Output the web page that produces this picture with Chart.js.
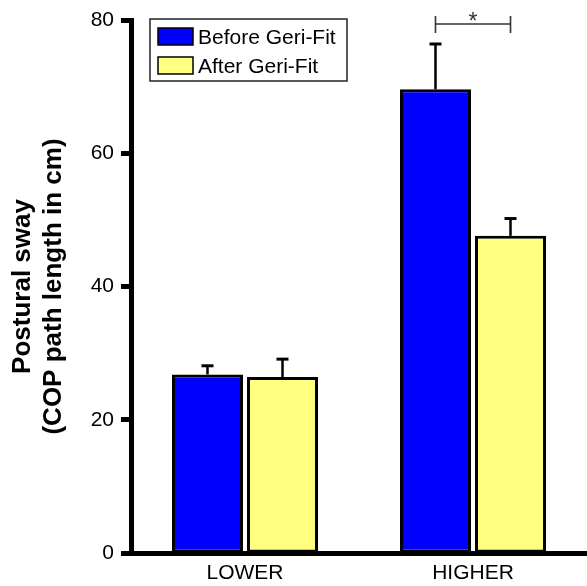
<!DOCTYPE html>
<html>
<head>
<meta charset="utf-8">
<script src="https://cdn.jsdelivr.net/npm/chart.js@4.4.1/dist/chart.umd.min.js"></script>
<style>
  html, body { margin: 0; padding: 0; background: #fff; }
</style>
</head>
<body>
<canvas id="sway" width="587" height="586"></canvas>
<script>
var categories = ['LOWER', 'HIGHER'];
var beforeValues = [26.8, 69.6];
var afterValues = [26.4, 47.6];
var beforeErrors = [1.3, 6.8];
var afterErrors = [2.7, 2.6];
var yTicks = [0, 20, 40, 60, 80];

var FONT = "'Liberation Sans', Arial, sans-serif";

// error bars, upper half only
var errorBars = {
  id: 'errorBars',
  afterDatasetsDraw: function (chart) {
    var ctx = chart.ctx;
    var y = chart.scales.y;
    chart.data.datasets.forEach(function (ds, i) {
      var meta = chart.getDatasetMeta(i);
      meta.data.forEach(function (bar, j) {
        var top = y.getPixelForValue(ds.data[j] + ds.errors[j]);
        ctx.save();
        ctx.strokeStyle = '#000';
        ctx.lineWidth = 2.5;
        ctx.beginPath();
        ctx.moveTo(bar.x, bar.y);
        ctx.lineTo(bar.x, top);
        ctx.stroke();
        ctx.lineWidth = 3;
        ctx.beginPath();
        ctx.moveTo(bar.x - 6, top);
        ctx.lineTo(bar.x + 6, top);
        ctx.stroke();
        ctx.restore();
      });
    });
  }
};

// significance bracket over HIGHER
var sigBracket = {
  id: 'sigBracket',
  afterDatasetsDraw: function (chart) {
    var ctx = chart.ctx;
    var a = chart.getDatasetMeta(0).data[1];
    var b = chart.getDatasetMeta(1).data[1];
    var yy = chart.chartArea.top + 4;
    ctx.save();
    ctx.strokeStyle = '#333';
    ctx.lineWidth = 1.6;
    ctx.beginPath();
    ctx.moveTo(a.x, yy);
    ctx.lineTo(b.x, yy);
    ctx.moveTo(a.x, yy - 8);
    ctx.lineTo(a.x, yy + 9);
    ctx.moveTo(b.x, yy - 8);
    ctx.lineTo(b.x, yy + 9);
    ctx.stroke();
    ctx.fillStyle = '#333';
    ctx.font = '23px ' + FONT;
    ctx.textAlign = 'center';
    ctx.textBaseline = 'alphabetic';
    ctx.fillText('*', (a.x + b.x) / 2, yy + 5);
    ctx.restore();
  }
};

// boxed legend inside the plot
var boxLegend = {
  id: 'boxLegend',
  afterDraw: function (chart) {
    var ctx = chart.ctx;
    var x0 = chart.chartArea.left + 19;
    var y0 = chart.chartArea.top - 1;
    ctx.save();
    ctx.strokeStyle = '#222';
    ctx.lineWidth = 1.5;
    ctx.strokeRect(x0, y0, 197, 62);
    ctx.font = '21px ' + FONT;
    ctx.textBaseline = 'alphabetic';
    chart.data.datasets.forEach(function (ds, i) {
      var sy = y0 + 9 + i * 29;
      ctx.fillStyle = ds.backgroundColor;
      ctx.fillRect(x0 + 8, sy, 35, 17);
      ctx.strokeStyle = '#000';
      ctx.lineWidth = 1.5;
      ctx.strokeRect(x0 + 8, sy, 35, 17);
      ctx.fillStyle = '#000';
      ctx.fillText(ds.label, x0 + 48, sy + 16);
    });
    ctx.restore();
  }
};

new Chart(document.getElementById('sway'), {
  type: 'bar',
  data: {
    labels: categories,
    datasets: [
      {
        label: 'Before Geri-Fit',
        data: beforeValues,
        errors: beforeErrors,
        backgroundColor: '#0000FF',
        borderColor: '#000',
        borderWidth: 3,
        borderSkipped: false
      },
      {
        label: 'After Geri-Fit',
        data: afterValues,
        errors: afterErrors,
        backgroundColor: '#FFFF80',
        borderColor: '#000',
        borderWidth: 3,
        borderSkipped: false
      }
    ]
  },
  options: {
    responsive: false,
    animation: false,
    categoryPercentage: 0.658,
    barPercentage: 0.947,
    layout: { padding: { top: 20, bottom: 2, left: 4, right: 0 } },
    plugins: {
      legend: { display: false },
      tooltip: { enabled: false }
    },
    scales: {
      x: {
        afterFit: function (scale) { scale.height = 31; },
        grid: { display: false, drawTicks: false },
        border: { display: true, color: '#000', width: 5 },
        ticks: { color: '#000', padding: 7.5, font: { family: FONT, size: 21 } }
      },
      y: {
        min: 0,
        max: 80,
        afterBuildTicks: function (scale) {
          scale.ticks = yTicks.map(function (v) { return { value: v }; });
        },
        afterFit: function (scale) { scale.width = 127; },
        grid: { drawOnChartArea: false, drawTicks: true, tickLength: 10, tickWidth: 5, tickColor: '#000' },
        border: { display: true, color: '#000', width: 5 },
        ticks: { color: '#000', padding: 7, font: { family: FONT, size: 21 } },
        title: {
          display: true,
          text: ['Postural sway', '(COP path length in cm)'],
          color: '#000',
          padding: { top: 3.5, bottom: 0 },
          font: { family: FONT, size: 26, weight: 'bold', lineHeight: 1.19 }
        }
      }
    }
  },
  plugins: [errorBars, sigBracket, boxLegend]
});
</script>
</body>
</html>
